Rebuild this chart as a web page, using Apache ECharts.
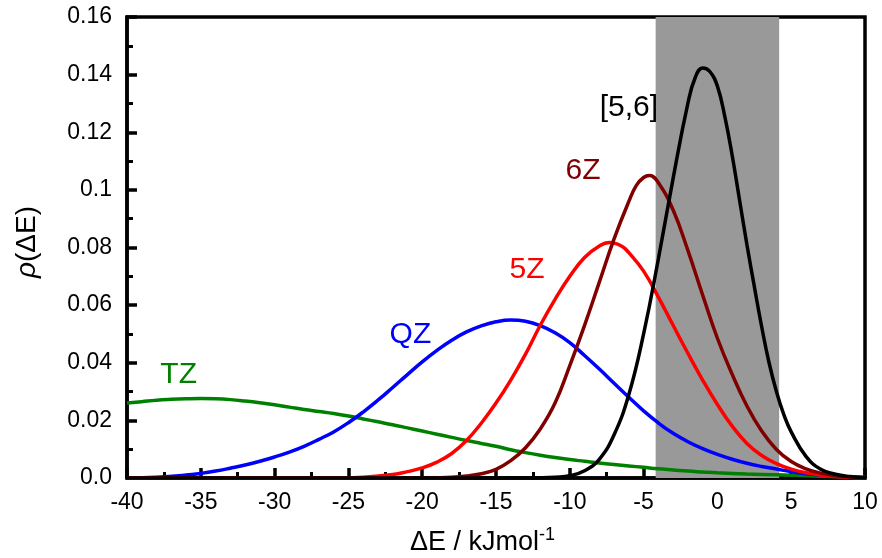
<!DOCTYPE html>
<html>
<head>
<meta charset="utf-8">
<script src="https://cdn.jsdelivr.net/npm/echarts@6/dist/echarts.min.js"></script>
<style>
  html, body { margin: 0; padding: 0; background: #fff; }
  #chart { width: 882px; height: 558px; }
</style>
</head>
<body>
<div id="chart"></div>
<script>
// energy error distributions
const TZ_X = [-40, -39, -38, -37, -36, -35, -34, -33, -32, -31, -30, -29, -28, -27, -26, -25, -24, -23, -22, -21, -20, -19, -18, -17, -16, -15, -14, -13, -12, -11, -10, -9, -8, -7, -6, -5, -4, -3, -2, -1, 0, 2, 4, 6, 8, 10];
const TZ_Y = [0.026, 0.0265, 0.027, 0.0273, 0.0275, 0.0276, 0.0275, 0.0272, 0.0267, 0.0261, 0.0254, 0.0246, 0.0238, 0.0231, 0.0224, 0.0215, 0.0205, 0.0195, 0.0185, 0.0174, 0.0163, 0.0152, 0.0141, 0.013, 0.012, 0.011, 0.0098, 0.0088, 0.0079, 0.0071, 0.0064, 0.0058, 0.0052, 0.0047, 0.0042, 0.0037, 0.0032, 0.0028, 0.0024, 0.0021, 0.0018, 0.0014, 0.0011, 0.0008, 0.0005, 0.0003];

const QZ_X = [-40, -38, -36, -35, -34, -33, -32, -31, -30, -29, -28, -27, -26, -25, -24, -23, -22, -21, -20, -19, -18, -17, -16, -15, -14, -13, -12, -11, -10, -9, -8, -7, -6, -5, -4, -3, -2, -1, 0, 1, 2, 3, 4, 5, 6, 7, 8, 9, 10];
const QZ_Y = [0.0001, 0.0003, 0.001, 0.0016, 0.0024, 0.0034, 0.0045, 0.0058, 0.0073, 0.009, 0.011, 0.0134, 0.016, 0.0192, 0.0229, 0.027, 0.0314, 0.0359, 0.0403, 0.0443, 0.0478, 0.0507, 0.0528, 0.0542, 0.0548, 0.0544, 0.0529, 0.0504, 0.047, 0.0425, 0.0378, 0.0329, 0.028, 0.0233, 0.0191, 0.0155, 0.0126, 0.0102, 0.0082, 0.0065, 0.0051, 0.004, 0.0031, 0.0022, 0.0015, 0.001, 0.0006, 0.0003, 0.0001];

const Z5_X = [-40, -26, -24, -22, -21, -20, -19, -18, -17, -16, -15, -14, -13, -12, -11, -10, -9, -8, -7.3, -6.5, -6, -5, -4, -3, -2, -1, 0, 1, 2, 3, 4, 5, 6, 7, 8, 9, 10];
const Z5_Y = [0, 0, 0.0003, 0.0012, 0.0022, 0.0035, 0.0055, 0.0085, 0.013, 0.019, 0.026, 0.034, 0.043, 0.053, 0.062, 0.070, 0.0765, 0.0805, 0.0817, 0.0805, 0.0782, 0.0718, 0.0628, 0.053, 0.0433, 0.034, 0.0255, 0.018, 0.012, 0.0078, 0.005, 0.0031, 0.0018, 0.001, 0.0005, 0.0002, 0.0001];

const Z6_X = [-40, -20, -18, -17, -16, -15, -14, -13, -12, -11, -10, -9, -8, -7, -6, -5.5, -5, -4.6, -4, -3, -2, -1, 0, 1, 2, 3, 4, 5, 6, 7, 8, 9, 10];
const Z6_Y = [0, 0, 0.0003, 0.0007, 0.0015, 0.003, 0.006, 0.0105, 0.017, 0.026, 0.039, 0.053, 0.068, 0.083, 0.096, 0.1015, 0.1043, 0.105, 0.1025, 0.093, 0.079, 0.0635, 0.0485, 0.036, 0.025, 0.0163, 0.0099, 0.0057, 0.0032, 0.0017, 0.0008, 0.0003, 0.0001];

const CBS_X = [-40, -14, -12, -11, -10, -9, -8, -7, -6, -5, -4, -3, -2, -1.5, -1, -0.5, 0, 0.5, 1, 1.5, 2, 2.5, 3, 3.5, 4, 4.5, 5, 6, 7, 8, 9, 10];
const CBS_Y = [0, 0, 0.0001, 0.0003, 0.0008, 0.0025, 0.0065, 0.015, 0.029, 0.050, 0.076, 0.104, 0.130, 0.139, 0.1423, 0.141, 0.136, 0.1255, 0.112, 0.0965, 0.081, 0.0665, 0.0525, 0.040, 0.030, 0.022, 0.016, 0.0075, 0.003, 0.0013, 0.0005, 0.0001];

// chemical accuracy band, +-1 kcal/mol
const BAND = [-4.184, 4.184];

const X_TICKS = { min: -40, max: 10, step: 5 };
const Y_TICKS = { min: 0, max: 0.16, step: 0.02 };

const FONT = '"Liberation Sans", Arial, Helvetica, sans-serif';

function zip(xs, ys) {
  return xs.map((x, i) => [x, ys[i]]);
}

const curves = [
  { name: 'TZ', x: TZ_X, y: TZ_Y, color: '#008000', at: [-36.5, 0.0358] },
  { name: 'QZ', x: QZ_X, y: QZ_Y, color: '#0000ff', at: [-20.8, 0.0496] },
  { name: '5Z', x: Z5_X, y: Z5_Y, color: '#ff0000', at: [-12.9, 0.0722] },
  { name: '6Z', x: Z6_X, y: Z6_Y, color: '#800000', at: [-9.1, 0.1066] },
  { name: '[5,6]', x: CBS_X, y: CBS_Y, color: '#000000', at: [-6.0, 0.1284] },
];

const chart = echarts.init(document.getElementById('chart'));

const series = [
  {
    type: 'line',
    data: [],
    silent: true,
    markArea: {
      silent: true,
      itemStyle: { color: '#999999' },
      data: [[{ xAxis: BAND[0] }, { xAxis: BAND[1] }]],
    },
  },
];

curves.forEach(c => {
  series.push({
    name: c.name,
    type: 'line',
    data: zip(c.x, c.y),
    smooth: 0.45,
    showSymbol: false,
    lineStyle: { color: c.color, width: 3.5 },
    markPoint: {
      symbol: 'circle',
      symbolSize: 0,
      silent: true,
      label: {
        show: true,
        position: 'inside',
        formatter: c.name,
        fontSize: 30,
        color: c.color,
        fontFamily: FONT,
      },
      data: [{ coord: c.at }],
    },
  });
});

chart.setOption({
  animation: false,
  backgroundColor: '#fff',
  grid: {
    left: 127, right: 17, top: 17, bottom: 80,
    show: true, borderColor: '#000', borderWidth: 3.5, backgroundColor: 'transparent',
  },
  xAxis: {
    type: 'value',
    min: X_TICKS.min,
    max: X_TICKS.max,
    interval: X_TICKS.step,
    axisLine: { show: true, onZero: false, lineStyle: { color: '#000', width: 3.5 } },
    axisTick: { show: true, inside: true, length: 10, lineStyle: { color: '#000', width: 3.5 } },
    minorTick: { show: true, splitNumber: 2, length: 6, lineStyle: { color: '#000', width: 3 } },
    splitLine: { show: false },
    axisLabel: { fontSize: 23, color: '#000', fontFamily: FONT, margin: 13 },
  },
  yAxis: {
    type: 'value',
    min: Y_TICKS.min,
    max: Y_TICKS.max,
    interval: Y_TICKS.step,
    axisLine: { show: true, onZero: false, lineStyle: { color: '#000', width: 3.5 } },
    axisTick: { show: true, inside: true, length: 10, lineStyle: { color: '#000', width: 3.5 } },
    minorTick: { show: true, splitNumber: 2, length: 6, lineStyle: { color: '#000', width: 3 } },
    splitLine: { show: false },
    axisLabel: {
      fontSize: 23,
      color: '#000',
      fontFamily: FONT,
      margin: 15,
      formatter: v => (v === 0 ? '0.0' : String(+v.toFixed(2))),
    },
  },
  series: series,
  graphic: [
    {
      type: 'text',
      left: 410,
      top: 526,
      style: {
        text: '{a|ΔE / kJmol}{b|-1}',
        fill: '#000',
        rich: {
          a: { fontSize: 27, fill: '#000', fontFamily: FONT },
          b: { fontSize: 18, fill: '#000', fontFamily: FONT, padding: [0, 0, 16, 0] },
        },
      },
    },
    {
      type: 'text',
      left: 13,
      top: 206,
      rotation: Math.PI / 2,
      style: {
        text: '{i|ρ}{n|(ΔE)}',
        fill: '#000',
        rich: {
          i: { fontSize: 28, fontStyle: 'italic', fill: '#000', fontFamily: FONT },
          n: { fontSize: 28, fill: '#000', fontFamily: FONT },
        },
      },
    },
  ],
});
</script>
</body>
</html>
